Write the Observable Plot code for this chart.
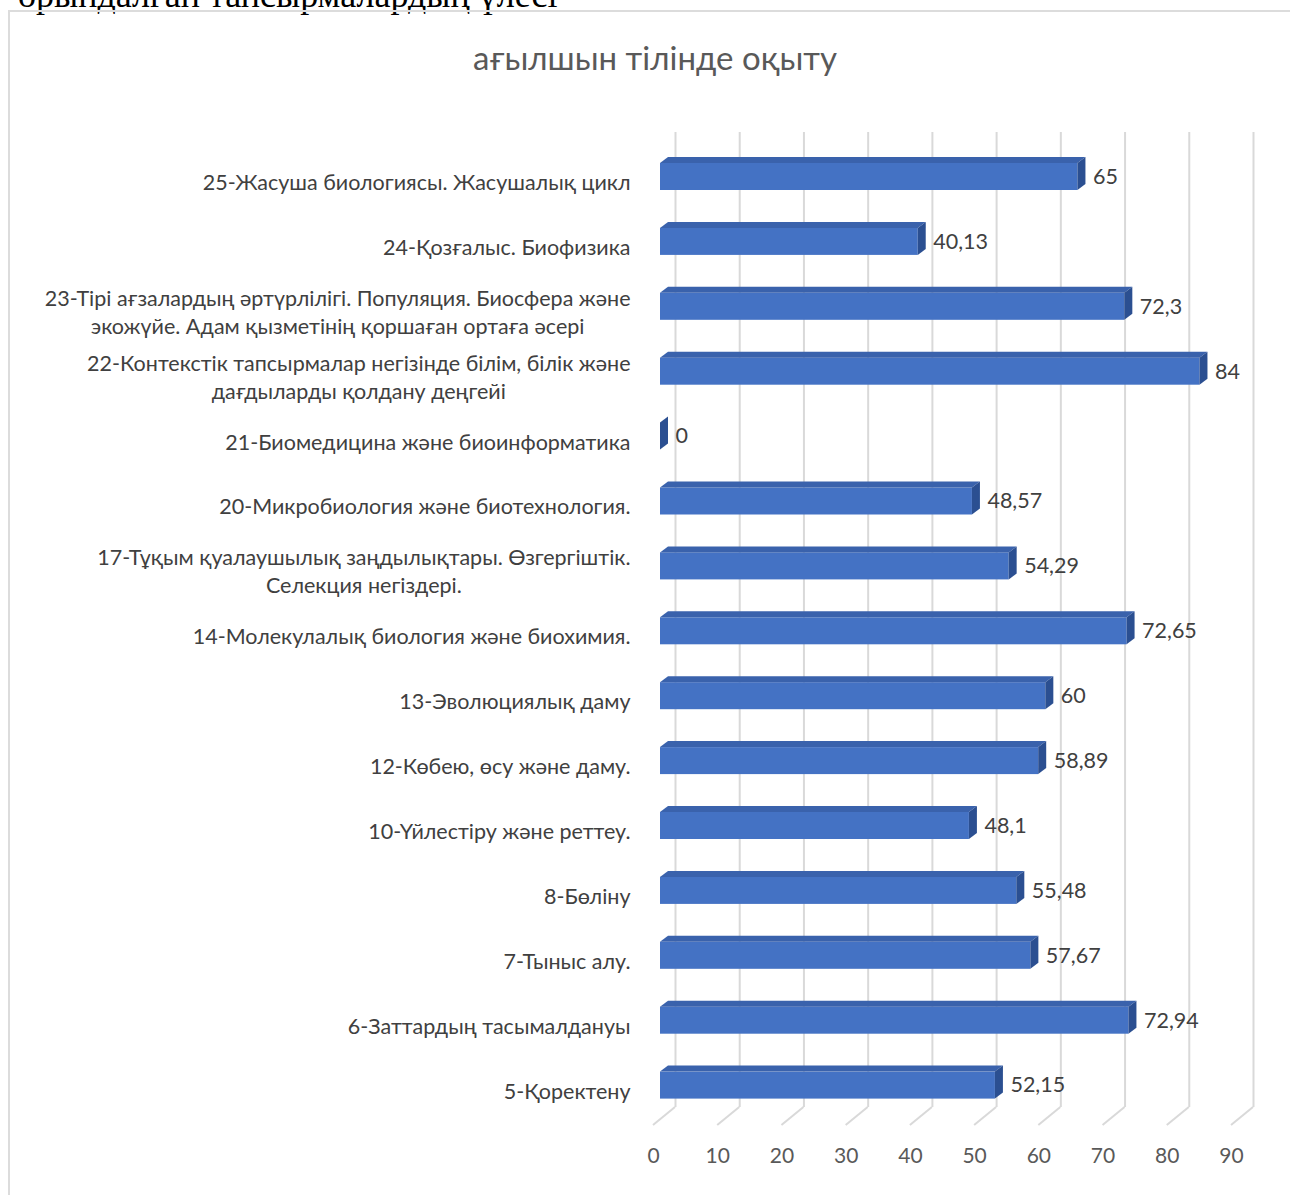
<!DOCTYPE html>
<html>
<head>
<meta charset="utf-8">
<script src="https://cdn.jsdelivr.net/npm/d3@7"></script>
<script src="https://cdn.jsdelivr.net/npm/@observablehq/plot@0.6"></script>
<style>
  html, body { margin: 0; padding: 0; background: #fff; width: 1290px; height: 1195px; overflow: hidden; position: relative; }
  #heading { position: absolute; left: 18px; top: -23px; font-family: "Liberation Serif", serif; font-size: 36px; line-height: 36px; color: #000; white-space: nowrap; }
  #frame { position: absolute; left: 8px; top: 10px; width: 1300px; height: 1210px; border: 2px solid #dcdcdc; box-sizing: border-box; }
  #title { position: absolute; left: 0; top: 38px; width: 1310px; text-align: center; font-family: Lato, sans-serif; font-size: 33px; line-height: 38px; color: #595959; }
  #chart { position: absolute; left: 0; top: 100px; }
</style>
</head>
<body>
<div id="heading">орындалған тапсырмалардың үлесі</div>
<div id="frame"></div>
<div id="title">ағылшын тілінде оқыту</div>
<div id="chart"></div>
<script>
const categories = [
  "25-Жасуша биологиясы. Жасушалық цикл",
  "24-Қозғалыс. Биофизика",
  "23-Тірі ағзалардың әртүрлілігі. Популяция. Биосфера және\nэкожүйе. Адам қызметінің қоршаған ортаға әсері",
  "22-Контекстік тапсырмалар негізінде білім, білік және\nдағдыларды қолдану деңгейі",
  "21-Биомедицина және биоинформатика",
  "20-Микробиология және биотехнология.",
  "17-Тұқым қуалаушылық заңдылықтары. Өзгергіштік.\nСелекция негіздері.",
  "14-Молекулалық биология және биохимия.",
  "13-Эволюциялық даму",
  "12-Көбею, өсу және даму.",
  "10-Үйлестіру және реттеу.",
  "8-Бөліну",
  "7-Тыныс алу.",
  "6-Заттардың тасымалдануы",
  "5-Қоректену"
];
const values = [65, 40.13, 72.3, 84, 0, 48.57, 54.29, 72.65, 60, 58.89, 48.1, 55.48, 57.67, 72.94, 52.15];
const xTicks = [0, 10, 20, 30, 40, 50, 60, 70, 80, 90];

const data = categories.map((c, i) => ({cat: c, value: values[i]}));
const fmt = v => String(v).replace(".", ",");

// 3D geometry (pixels)
const depth = 22, depthY = 18;       // back-wall offset
const barDx = 7;                     // bar position in depth
const topDx = 8, topDy = 6;          // bar thickness in depth
const labelFont = 21.5;
const labelFamily = "Lato";

const W = 1280, H = 1095;
const mTop = 32, mBottom = 88, mLeft = 653, mRight = 49;
const step = 64.9, band0 = 76.5, bandH = 27;
const n = categories.length;

const ctx = document.createElement("canvas").getContext("2d");
ctx.font = `${labelFont}px ${labelFamily}`;
const labelWidth = c => Math.max(...c.split("\n").map(s => ctx.measureText(s).width));

const grid = "#d9d9d9";

function getBw(y) {
  let bw = y.bandwidth;
  if (typeof bw === "function") bw = bw();
  return bw || bandH;
}

function decorations(index, scales, values_, dims) {
  const x = scales.x;
  const g = d3.create("svg:g");
  const yb = dims.height - dims.marginBottom;
  for (const t of xTicks) {
    g.append("line")
      .attr("x1", x(t) + depth).attr("y1", yb)
      .attr("x2", x(t)).attr("y2", yb + depthY)
      .attr("stroke", grid).attr("stroke-width", 2);
  }
  return g.node();
}

function barFaces(index, scales) {
  const x = scales.x, y = scales.y;
  const bw = getBw(y);
  const g = d3.create("svg:g");
  for (const d of data) {
    const x0 = x(0) + barDx, x1 = x(d.value) + barDx;
    const yt = y(d.cat), ybt = yt + bw;
    g.append("polygon")
      .attr("points", [[x0, yt], [x0 + topDx, yt - topDy], [x1 + topDx, yt - topDy], [x1, yt]].join(" "))
      .attr("fill", "#3A62AC");
    g.append("polygon")
      .attr("points", [[x1, yt], [x1 + topDx, yt - topDy], [x1 + topDx, ybt - topDy], [x1, ybt]].join(" "))
      .attr("fill", "#2B4F91");
  }
  return g.node();
}

const labelMarks = categories.map(c => Plot.text([c], {
  x: () => 0, y: () => c, text: d => d,
  textAnchor: "middle", lineAnchor: "middle", lineHeight: 1.3,
  dx: -(23 + labelWidth(c) / 2), dy: 4,
  fontSize: labelFont, fontFamily: labelFamily, fill: "#404040"
}));

const chart = Plot.plot({
  width: W, height: H,
  marginTop: mTop, marginBottom: mBottom, marginLeft: mLeft, marginRight: mRight,
  style: {background: "transparent", overflow: "visible"},
  x: {domain: [0, 90], range: [mLeft, W - mRight], axis: null, label: null},
  y: {type: "band", domain: categories, round: false,
      range: [band0 - step / 2, band0 - step / 2 + n * step],
      paddingInner: 1 - bandH / step, paddingOuter: (1 - bandH / step) / 2, align: 0.5, axis: null, label: null},
  marks: [
    Plot.ruleX(xTicks, {x: d => d, dx: depth, stroke: grid, strokeWidth: 2}),
    decorations,
    Plot.barX(data, {x: "value", y: "cat", dx: barDx, fill: "#4472C4"}),
    barFaces,
    Plot.text(data, {x: "value", y: "cat", text: d => fmt(d.value), dx: barDx + topDx + 7, dy: 0,
      textAnchor: "start", fontSize: labelFont, fontFamily: labelFamily, fill: "#404040"}),
    ...labelMarks,
    Plot.axisX(xTicks, {tickSize: 0, tickPadding: 41, fontSize: 21, fontFamily: labelFamily,
      fill: "#595959", tickFormat: d => String(d), label: null})
  ]
});
document.getElementById("chart").appendChild(chart);
</script>
</body>
</html>
